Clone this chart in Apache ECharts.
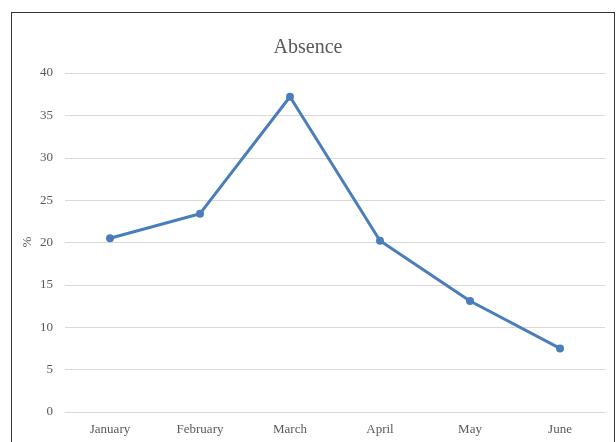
<!DOCTYPE html>
<html>
<head>
<meta charset="utf-8">
<script src="https://cdn.jsdelivr.net/npm/echarts@6/dist/echarts.min.js"></script>
<style>
html,body{margin:0;padding:0;background:#fff;overflow:hidden;}
#wrap{position:relative;width:616px;height:442px;overflow:hidden;}
#chart{position:absolute;left:0;top:0;width:616px;height:442px;}
#frame{position:absolute;left:11px;top:12px;width:602px;height:460px;border:1.5px solid #333333;pointer-events:none;}
</style>
</head>
<body>
<div id="wrap"><div id="chart"></div><div id="frame"></div></div>
<script>
const categories = ["January","February","March","April","May","June"];
const absence = [20.5, 23.4, 37.2, 20.2, 13.1, 7.5];
const yMin = 0, yMax = 40, yStep = 5;
const yName = '%';
const font = "'Liberation Serif', 'DejaVu Serif', serif";

const chart = echarts.init(document.getElementById('chart'), null, {renderer:'canvas'});
chart.setOption({
  animation:false,
  backgroundColor:'#ffffff',
  title:{
    text:'Absence', left:'center', top:33,
    textStyle:{fontFamily:font, fontSize:20, fontWeight:'normal', color:'#595959'}
  },
  grid:{left:65, right:11, top:73, bottom:30},
  graphic:[{
    type:'text', x:28, y:242, rotation:Math.PI/2,
    style:{text:yName, fontFamily:font, fontSize:13, fill:'#595959', align:'center', verticalAlign:'middle'}
  }],
  xAxis:{
    type:'category', data:categories, boundaryGap:true,
    axisLine:{show:true, lineStyle:{color:'#d9d9d9', width:1}},
    axisTick:{show:false},
    axisLabel:{fontFamily:font, fontSize:13, color:'#595959', margin:11}
  },
  yAxis:{
    type:'value', min:yMin, max:yMax, interval:yStep,
    axisLine:{show:false}, axisTick:{show:false},
    axisLabel:{fontFamily:font, fontSize:13, color:'#595959', margin:12},
    splitLine:{lineStyle:{color:'#d9d9d9', width:1}}
  },
  series:[{
    type:'line', data:absence,
    symbol:'circle', symbolSize:8,
    lineStyle:{color:'#4a7ebb', width:3},
    itemStyle:{color:'#4a7ebb'}
  }]
});
</script>
</body>
</html>
